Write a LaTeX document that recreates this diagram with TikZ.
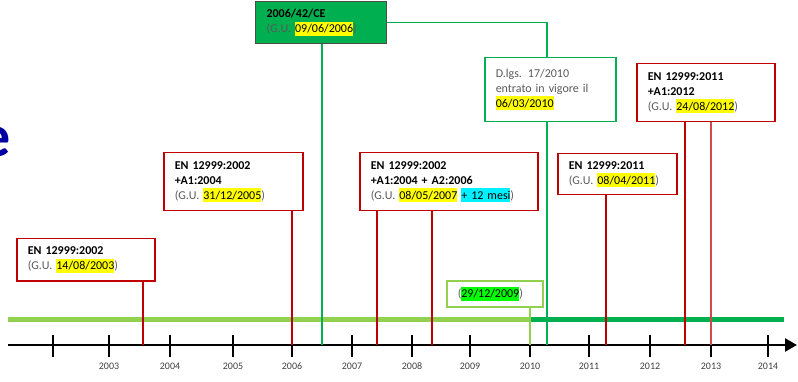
\documentclass[tikz,border=0pt]{standalone}
\usepackage{fontspec}
\setmainfont{Carlito}
\usetikzlibrary{arrows.meta}
\definecolor{evred}{RGB}{192,0,0}
\definecolor{evredlt}{RGB}{205,75,75}
\definecolor{evgreen}{RGB}{0,176,80}
\definecolor{evlime}{RGB}{146,208,80}
\definecolor{hlyellow}{RGB}{255,255,0}
\definecolor{hlcyan}{RGB}{0,240,255}
\definecolor{hlgreen}{RGB}{0,255,0}
\definecolor{txgray}{RGB}{89,89,89}
\definecolor{titleblue}{RGB}{0,0,160}
\newcommand\hlbox[2]{{\setlength\fboxsep{0pt}\colorbox{#1}{\rule[-3pt]{0pt}{14pt}#2}}}
\newcommand\gudate[1]{\textcolor{txgray}{(G.U. }\hlbox{hlyellow}{#1}\textcolor{txgray}{)}}

\begin{document}
\begin{tikzpicture}[x=1pt,y=-1pt,
  evbox/.style={draw=evred,line width=1.5pt,align=left,inner xsep=11pt,inner ysep=0pt,
    anchor=north west,font=\fontsize{12}{15}\selectfont},
  evline/.style={evred,line width=1.5pt},
  yearlbl/.style={anchor=base,font=\fontsize{10}{12}\selectfont,text=black!75}]
\useasboundingbox (0,0) rectangle (798,382);
\node [anchor=base east,inner sep=0pt,text=titleblue,font=\fontsize{60}{60}\selectfont\bfseries] (titlee) at (10.5,156.5) {e};

% dates on the axis
\coordinate (gu2003) at (143,345);
\coordinate (gu2005) at (292,345);
\coordinate (ce2006) at (322,345);
\coordinate (gu2007) at (377,345);
\coordinate (gu2008) at (432,345);
\coordinate (dl2009) at (530,345);
\coordinate (dl2010) at (547,345);
\coordinate (gu2011) at (606,345);
\coordinate (gu2012) at (685,345);
\coordinate (gu2013) at (711,345);

% bars
\draw [evlime,line width=5pt] (8,319) -- (530,319);
\draw [evgreen,line width=5pt] (530,319) -- (784,319);

% axis
\draw [line width=2.5pt,-{Triangle[length=12pt,width=13pt]}] (8,345) -- (797,345);
\draw [line width=1.8pt] (53,335) -- (53,357);
\foreach \x/\yr in {109/2003,170/2004,233/2005,292/2006,352/2007,412/2008,470/2009,530/2010,589/2011,650/2012,711/2013,768/2014}{
  \draw [line width=1.8pt] (\x,335) -- (\x,357);
  \node [yearlbl] (yr\yr) at (\x,369) {\yr};
}

% boxes
\node [evbox,text width=116pt,minimum height=42pt] (boxA) at (16,238)
  {\textbf{EN 12999:2002}\\\gudate{14/08/2003}};
\node [evbox,text width=117pt,minimum height=58pt] (boxB) at (163,152)
  {\textbf{EN 12999:2002}\\\textbf{+A1:2004}\\\gudate{31/12/2005}};
\node [evbox,draw=black!70,fill=evgreen,line width=1pt,text width=109pt,minimum height=42pt] (boxC) at (255,1)
  {\textbf{2006/42/CE}\\\gudate{09/06/2006}};
\node [evbox,text width=156pt,minimum height=58pt] (boxD) at (359,152)
  {\textbf{EN 12999:2002}\\\textbf{+A1:2004 + A2:2006}\\\textcolor{txgray}{(G.U. }\hlbox{hlyellow}{08/05/2007} \hlbox{hlcyan}{+ 12 mesi}\textcolor{txgray}{)}};
\node [evbox,draw=evgreen,text=txgray,text width=109pt,minimum height=64pt] (boxE) at (484,57)
  {D.lgs. 17/2010\\entrato in vigore il\\\hlbox{hlyellow}{\textcolor{black}{06/03/2010}}};
\node [evbox,text width=97pt,minimum height=41pt] (boxF) at (557,153)
  {\textbf{EN 12999:2011}\\\gudate{08/04/2011}};
\node [evbox,text width=116pt,minimum height=58pt] (boxG) at (636,63)
  {\textbf{EN 12999:2011}\\\textbf{+A1:2012}\\\gudate{24/08/2012}};
\node [evbox,draw=evlime,text width=74pt,minimum height=26pt] (boxH) at (446,280)
  {\textcolor{txgray}{(}\hlbox{hlgreen}{29/12/2009}\textcolor{txgray}{)}};

% connectors
\draw [evline] (gu2003 |- boxA.south) -- (gu2003);
\draw [evline] (gu2005 |- boxB.south) -- (gu2005);
\draw [evgreen,line width=1.5pt] (ce2006 |- boxC.south) -- (ce2006);
\draw [evline] (gu2007 |- boxD.south) -- (gu2007);
\draw [evline] (gu2008 |- boxD.south) -- (gu2008);
\draw [evlime,line width=1.5pt] (dl2009 |- boxH.south) -- (dl2009);
\draw [evgreen,line width=1.5pt] (boxC.east) -| (dl2010 |- boxE.north);
\draw [evgreen,line width=1.5pt] (dl2010 |- boxE.south) -- (dl2010);
\draw [evline] (gu2011 |- boxF.south) -- (gu2011);
\draw [evline] (gu2012 |- boxG.south) -- (gu2012);
\draw [evredlt,line width=1.5pt] (gu2013 |- boxG.south) -- (gu2013);
\end{tikzpicture}
\end{document}
